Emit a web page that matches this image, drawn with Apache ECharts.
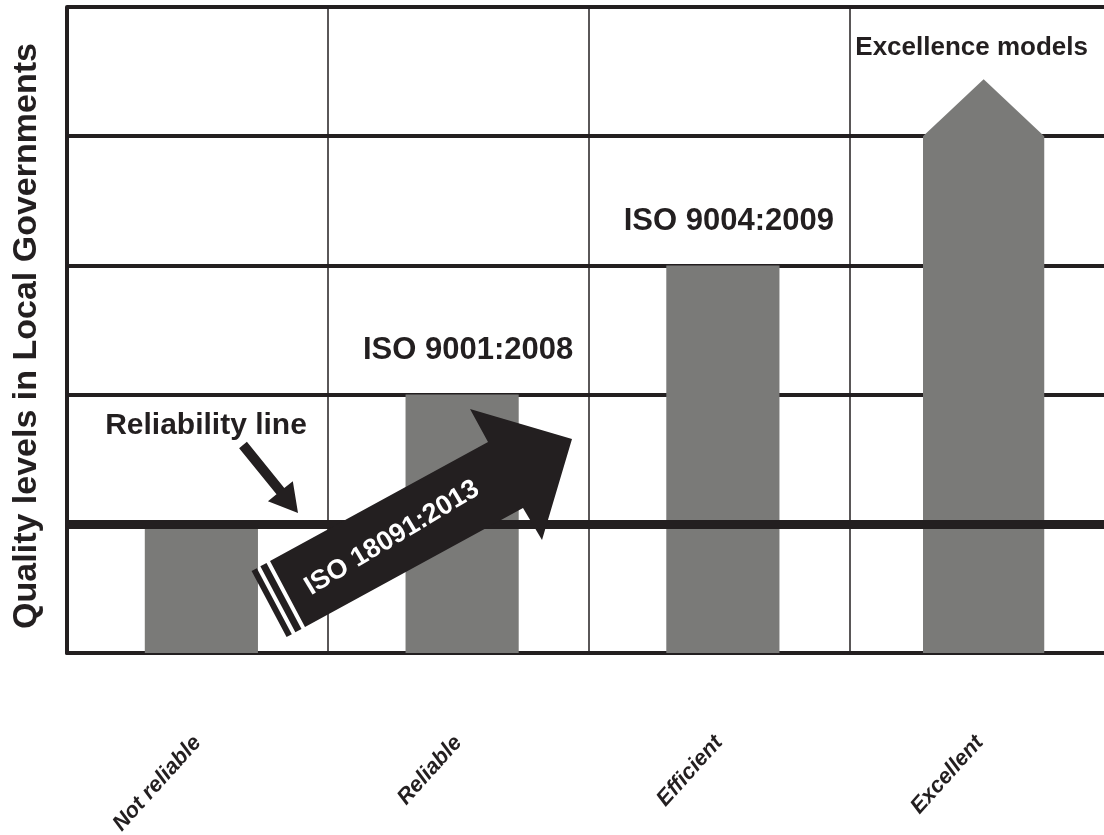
<!DOCTYPE html>
<html><head><meta charset="utf-8">
<script src="https://cdn.jsdelivr.net/npm/echarts@6/dist/echarts.min.js"></script>
<style>html,body{margin:0;padding:0;background:#fff}#c{width:1104px;height:835px}</style>
</head><body><div id="c"></div>
<script>
// ---- data ----
const categories = ['Not reliable', 'Reliable', 'Efficient', 'Excellent'];
const levels = [1, 2, 3, 4];
const arrowTips = [null, null, null, 4.44];
const standards = ['', 'ISO 9001:2008', 'ISO 9004:2009', 'Excellence models'];
const reliabilityLevel = 1;
const yMin = 0, yMax = 5, yStep = 1;
const yAxisTitle = 'Quality levels in Local Governments';
const bigArrowText = 'ISO 18091:2013';
const reliabilityText = 'Reliability line';

// ---- style ----
const INK = '#231f20';
const BAR = '#7a7a78';
const FONT = '"Liberation Sans", Arial, Helvetica, sans-serif';

const seriesData = categories.map((c, i) => [i, levels[i], arrowTips[i] == null ? levels[i] : arrowTips[i]]);

function arrowPoly(tail, tip, shaftW, headW, headL) {
  const dx = tip[0] - tail[0], dy = tip[1] - tail[1];
  const L = Math.hypot(dx, dy), ux = dx / L, uy = dy / L;
  const nx = -uy, ny = ux;
  const neck = [tip[0] - ux * headL, tip[1] - uy * headL];
  const p = (b, k) => [b[0] + nx * k, b[1] + ny * k];
  return [p(tail, shaftW / 2), p(neck, shaftW / 2), p(neck, headW / 2), tip,
          p(neck, -headW / 2), p(neck, -shaftW / 2), p(tail, -shaftW / 2)];
}

// big arrow geometry (annotation)
const tA = [270, 561], tB = [305, 627];
const back = (() => { const dx = -218, dy = 119, L = Math.hypot(dx, dy); return [dx / L, dy / L]; })();
const off = (pt, k) => [pt[0] + back[0] * k, pt[1] + back[1] * k];
const strip = (k1, k2) => [off(tA, k1), off(tB, k1), off(tB, k2), off(tA, k2)];

const chart = echarts.init(document.getElementById('c'), null, { renderer: 'canvas' });
chart.setOption({
  animation: false,
  backgroundColor: '#ffffff',
  grid: { left: 67, right: -6, top: 7, bottom: 182, containLabel: false, outerBoundsMode: 'none' },
  xAxis: {
    type: 'category',
    data: categories,
    boundaryGap: true,
    axisLine: { show: true, lineStyle: { color: INK, width: 4 } },
    axisTick: { show: false },
    splitLine: { show: true, interval: 0, lineStyle: { color: INK, width: 1.5 } },
    axisLabel: {
      interval: 0, rotate: 48, margin: 86,
      fontFamily: '"Liberation Sans Narrow", "Liberation Sans", Arial, sans-serif',
      fontStyle: 'italic', fontWeight: 'bold', fontSize: 22, color: INK
    }
  },
  yAxis: {
    type: 'value', min: yMin, max: yMax, interval: yStep,
    axisLine: { show: true, lineStyle: { color: INK, width: 4 } },
    axisTick: { show: false },
    axisLabel: { show: false },
    splitLine: { show: true, lineStyle: { color: INK, width: 4 } }
  },
  series: [
    {
      type: 'line', data: [], z: 1, silent: true,
      markLine: {
        silent: true, symbol: ['none', 'none'], label: { show: false },
        lineStyle: { color: INK, width: 9, type: 'solid' },
        data: [{ yAxis: reliabilityLevel }]
      }
    },
    {
      type: 'custom', z: 3, silent: true,
      data: seriesData,
      renderItem(params, api) {
        const i = api.value(0), v = api.value(1), tipV = api.value(2);
        const band = api.size([1, 0])[0];
        const base = api.coord([i, 0]);
        const top = api.coord([i, v]);
        const hasTip = tipV > v;
        const w = band * (hasTip ? 0.465 : 0.434);
        const cx = base[0] + 4;
        const children = [];
        if (hasTip) {
          const tip = api.coord([i, tipV]);
          children.push({
            type: 'polygon',
            shape: { points: [[cx - w / 2, base[1]], [cx - w / 2, top[1]], [cx, tip[1]], [cx + w / 2, top[1]], [cx + w / 2, base[1]]] },
            style: { fill: BAR }
          });
        } else {
          children.push({ type: 'rect', shape: { x: cx - w / 2, y: top[1], width: w, height: base[1] - top[1] }, style: { fill: BAR } });
        }
        const lab = standards[params.dataIndex];
        if (lab) {
          const ly = hasTip ? api.coord([i, tipV])[1] - 32 : top[1] - 44;
          children.push({
            type: 'text',
            x: hasTip ? cx - 12 : cx + 6, y: ly,
            style: { text: lab, fill: INK, align: 'center', verticalAlign: 'middle',
                     font: 'bold ' + (hasTip ? 26 : 31) + 'px ' + FONT }
          });
        }
        return { type: 'group', children };
      }
    }
  ],
  graphic: [
    { type: 'text', x: 27, y: 336, z: 100, rotation: Math.PI / 2,
      style: { text: yAxisTitle, fill: INK, align: 'center', verticalAlign: 'middle', font: 'bold 34px ' + FONT } },
    { type: 'text', x: 206, y: 426, z: 100,
      style: { text: reliabilityText, fill: INK, align: 'center', verticalAlign: 'middle', font: 'bold 30px ' + FONT } },
    { type: 'polygon', z: 100, shape: { points: arrowPoly([243, 445], [298, 513], 10, 32, 28) }, style: { fill: INK } },
    { type: 'polygon', z: 100,
      shape: { points: [tA, [488, 442], [470, 409], [572, 439], [542, 540], [523, 508], tB] },
      style: { fill: INK } },
    { type: 'polygon', z: 100, shape: { points: strip(4, 11) }, style: { fill: INK } },
    { type: 'polygon', z: 100, shape: { points: strip(15, 21) }, style: { fill: INK } },
    { type: 'text', x: 392, y: 538, z: 101, rotation: 31 * Math.PI / 180,
      style: { text: bigArrowText, fill: '#ffffff', align: 'center', verticalAlign: 'middle', font: 'bold 27px ' + FONT } }
  ]
});
</script>
</body></html>
